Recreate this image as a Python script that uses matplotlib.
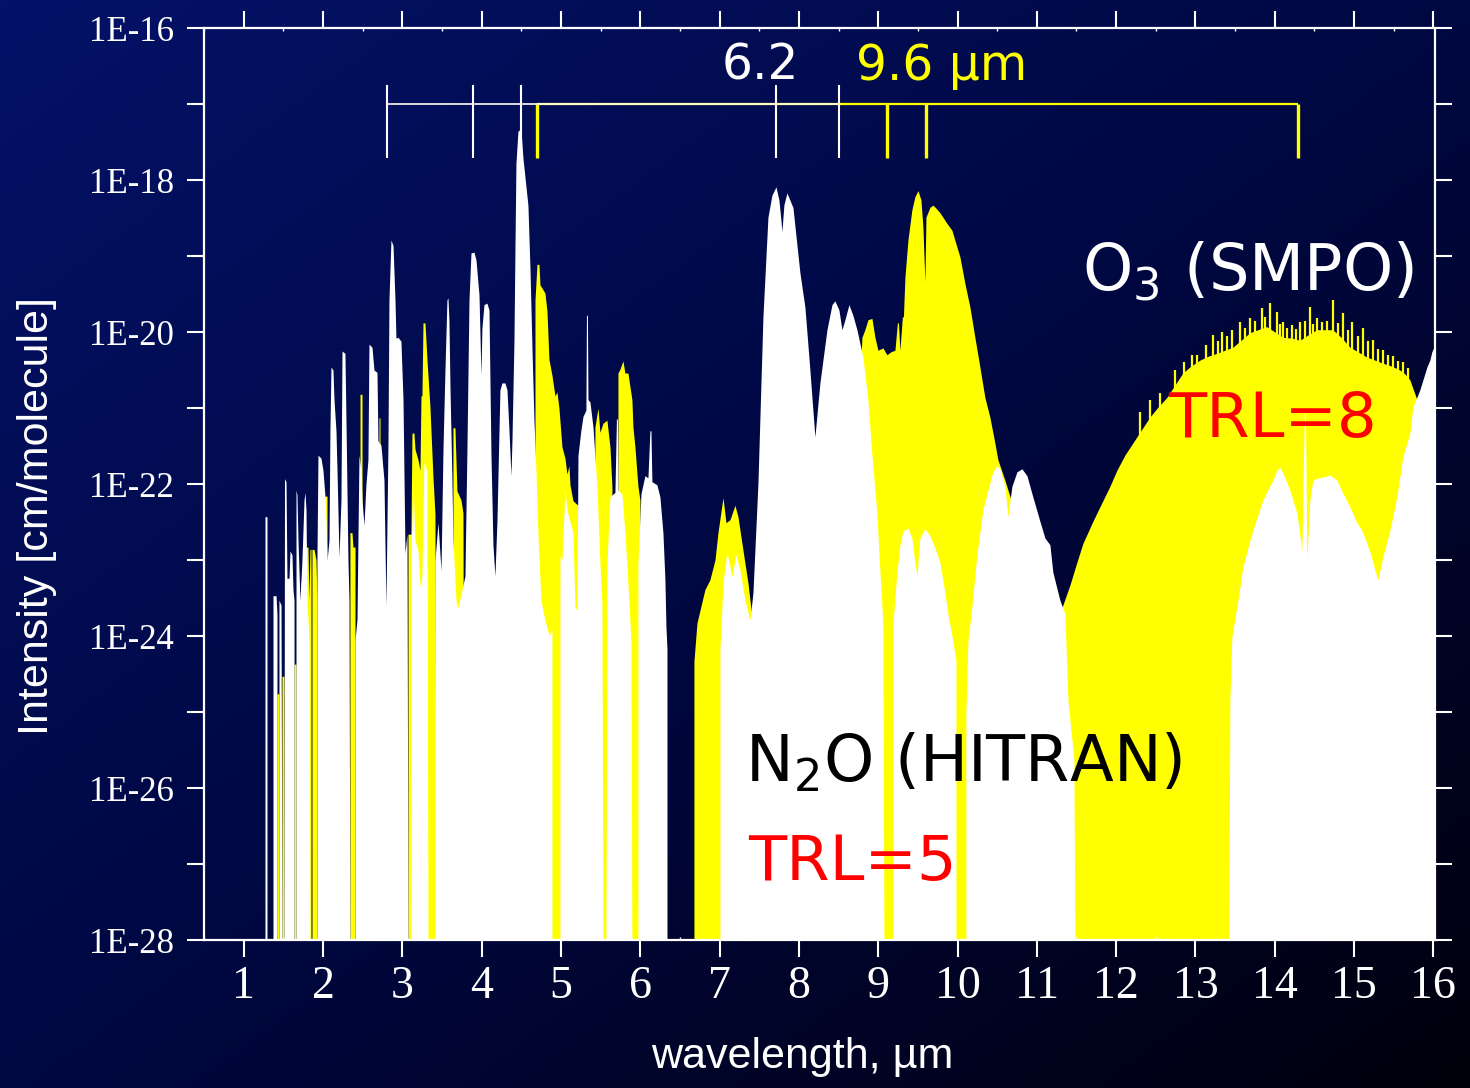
import numpy as np
import matplotlib
matplotlib.use("Agg")
import matplotlib.pyplot as plt
from matplotlib.ticker import FixedLocator, FixedFormatter, NullLocator

# ---------------- data (wavelength in um, log10 intensity in cm/molecule) ----------------
# N2O (HITRAN) upper envelope; -28 means no line coverage (axis floor)
n2o_env = [
    (1.269, -28), (1.269, -22.43), (1.294, -22.43), (1.294, -28),
    (1.370, -28), (1.370, -23.47), (1.408, -23.47), (1.420, -23.72), (1.420, -28),
    (1.445, -28), (1.445, -23.53), (1.471, -23.59), (1.483, -28),
    (1.508, -28), (1.515, -21.93), (1.534, -21.97), (1.546, -23.24), (1.572, -23.24), (1.584, -22.88),
    (1.609, -22.93), (1.622, -23.39), (1.635, -23.53), (1.635, -28), (1.660, -28), (1.660, -22.08),
    (1.672, -22.14), (1.685, -22.74), (1.710, -23.53), (1.735, -23.00), (1.761, -22.21), (1.773, -22.11),
    (1.786, -22.34), (1.798, -23.53), (1.824, -24.05), (1.836, -28),
    (1.924, -28), (1.924, -23.00), (1.937, -21.62), (1.975, -21.66), (2.000, -21.82), (2.025, -22.16),
    (2.038, -22.47), (2.051, -23.01), (2.076, -22.74), (2.088, -21.29), (2.101, -20.46), (2.126, -20.50),
    (2.139, -20.89), (2.164, -21.30), (2.177, -21.82), (2.202, -22.96), (2.227, -22.21), (2.240, -20.25),
    (2.277, -20.28), (2.290, -21.16), (2.315, -23.00), (2.328, -23.53), (2.340, -28),
    (2.404, -28), (2.404, -24.05), (2.429, -23.78), (2.454, -21.62), (2.479, -21.82), (2.492, -22.21),
    (2.517, -22.54), (2.542, -22.00), (2.567, -21.68), (2.580, -20.16), (2.618, -20.20), (2.643, -20.50),
    (2.681, -20.53), (2.693, -21.43), (2.731, -21.49), (2.769, -21.95), (2.794, -23.61), (2.820, -21.42),
    (2.832, -19.58), (2.857, -18.79), (2.883, -18.86), (2.908, -19.58), (2.920, -20.08), (2.946, -20.07),
    (2.983, -20.12), (3.009, -20.89), (3.034, -22.91), (3.059, -22.66), (3.072, -28),
    (3.109, -28), (3.109, -23.00), (3.135, -21.96), (3.160, -22.74), (3.198, -22.87), (3.223, -23.36),
    (3.248, -23.20), (3.273, -21.71), (3.311, -21.82), (3.324, -28),
    (3.412, -28), (3.412, -23.00), (3.450, -22.51), (3.488, -23.14), (3.513, -21.55), (3.538, -20.50),
    (3.563, -19.58), (3.576, -19.55), (3.588, -19.84), (3.601, -20.71), (3.626, -21.95), (3.639, -22.74),
    (3.677, -23.53), (3.702, -23.63), (3.752, -23.39), (3.790, -23.21), (3.815, -21.55), (3.841, -19.58),
    (3.866, -18.96), (3.904, -18.95), (3.929, -19.05), (3.967, -19.51), (3.992, -20.57), (4.004, -19.95),
    (4.030, -19.64), (4.067, -19.62), (4.093, -19.71), (4.118, -21.61), (4.143, -22.80), (4.168, -23.21),
    (4.194, -22.47), (4.231, -20.76), (4.257, -20.67), (4.294, -20.67), (4.320, -20.76), (4.345, -21.29),
    (4.370, -21.89), (4.383, -21.42), (4.408, -20.11), (4.420, -18.95), (4.433, -17.78), (4.458, -17.36),
    (4.496, -17.32), (4.521, -17.71), (4.584, -18.33), (4.610, -19.17), (4.635, -20.21), (4.660, -21.16),
    (4.685, -21.82), (4.710, -22.66), (4.748, -23.53), (4.799, -23.79), (4.849, -23.99), (4.887, -23.92),
    (4.887, -28),
    (4.988, -28), (4.988, -22.95), (5.013, -23.00), (5.051, -22.08), (5.076, -22.34), (5.152, -22.64),
    (5.177, -23.62), (5.202, -23.66), (5.215, -21.62), (5.252, -21.29), (5.278, -21.11), (5.315, -21.03),
    (5.322, -19.78), (5.334, -19.78), (5.341, -20.89), (5.366, -20.92), (5.404, -21.25), (5.454, -22.03),
    (5.492, -23.05), (5.517, -23.57), (5.530, -28),
    (5.568, -28), (5.580, -23.05), (5.618, -22.17), (5.681, -22.11), (5.700, -21.13), (5.713, -21.16),
    (5.719, -22.08), (5.769, -22.13), (5.807, -22.64), (5.845, -23.30), (5.883, -24.07), (5.895, -28),
    (5.971, -28), (5.971, -23.05), (6.009, -22.13), (6.059, -21.89), (6.097, -21.92), (6.122, -21.30),
    (6.135, -21.30), (6.147, -21.97), (6.210, -22.01), (6.248, -22.17), (6.286, -22.64), (6.311, -23.25),
    (6.324, -23.87), (6.337, -24.17), (6.337, -28),
    (7.005, -28), (7.005, -24.18), (7.043, -23.30), (7.093, -22.89), (7.156, -23.22), (7.206, -22.93),
    (7.257, -23.13), (7.320, -23.53), (7.383, -23.79), (7.421, -23.43), (7.484, -21.99), (7.547, -19.80),
    (7.610, -18.49), (7.660, -18.20), (7.711, -18.09), (7.748, -18.26), (7.774, -18.53), (7.786, -18.68),
    (7.811, -18.33), (7.849, -18.17), (7.925, -18.36), (8.013, -19.22), (8.076, -19.67), (8.139, -20.50),
    (8.202, -21.38), (8.265, -20.67), (8.354, -19.97), (8.417, -19.64), (8.454, -19.59), (8.505, -19.71),
    (8.543, -19.97), (8.580, -19.84), (8.631, -19.64), (8.681, -19.78), (8.732, -19.97), (8.807, -20.33),
    (8.870, -20.89), (8.921, -21.62), (8.984, -22.39), (9.022, -23.16), (9.060, -23.84), (9.072, -28),
    (9.186, -28), (9.186, -23.84), (9.236, -23.16), (9.274, -22.80), (9.312, -22.62), (9.375, -22.58),
    (9.425, -22.71), (9.463, -23.03), (9.488, -23.21), (9.526, -22.71), (9.589, -22.59), (9.652, -22.68),
    (9.715, -22.84), (9.778, -23.03), (9.841, -23.43), (9.879, -23.71), (9.942, -24.07), (9.980, -24.32),
    (9.980, -28),
    (10.106, -28), (10.106, -25.00), (10.131, -24.07), (10.181, -23.62), (10.244, -22.93), (10.320, -22.34),
    (10.383, -22.08), (10.446, -21.84), (10.497, -21.76), (10.534, -21.80), (10.597, -22.03), (10.635, -22.43),
    (10.686, -22.03), (10.749, -21.84), (10.812, -21.80), (10.875, -21.89), (10.950, -22.17), (11.039, -22.49),
    (11.102, -22.71), (11.165, -22.80), (11.202, -23.16), (11.291, -23.53), (11.354, -23.71), (11.392, -24.84),
    (11.467, -25.63), (11.480, -28),
    (13.421, -28), (13.434, -24.84), (13.459, -24.01), (13.535, -23.53), (13.598, -23.09), (13.661, -22.84),
    (13.724, -22.61), (13.787, -22.41), (13.850, -22.21), (13.913, -22.08), (13.976, -21.95), (14.026, -21.82),
    (14.064, -21.78), (14.114, -21.88), (14.190, -22.08), (14.278, -22.38), (14.342, -22.87), (14.373, -21.03),
    (14.386, -21.03), (14.404, -23.00), (14.442, -22.21), (14.480, -21.95), (14.543, -21.92), (14.606, -21.91),
    (14.694, -21.88), (14.783, -21.95), (14.858, -22.12), (14.947, -22.30), (15.035, -22.51), (15.098, -22.61),
    (15.161, -22.78), (15.211, -22.93), (15.262, -23.13), (15.300, -23.26), (15.363, -22.96), (15.451, -22.61),
    (15.539, -22.17), (15.615, -21.64), (15.703, -21.33), (15.741, -20.99), (15.829, -20.76), (15.918, -20.46),
    (15.955, -20.37), (15.980, -20.26), (16.02, -20.17),
]

# O3 (SMPO) upper envelope
o3_env = [
    (1.420, -28), (1.420, -24.76), (1.445, -24.76), (1.445, -28),
    (1.483, -28), (1.483, -24.53), (1.508, -24.53), (1.508, -28),
    (1.635, -28), (1.635, -24.37), (1.660, -24.37), (1.660, -28),
    (1.723, -28), (1.723, -23.29), (1.748, -23.29), (1.748, -28),
    (1.786, -28), (1.786, -22.83), (1.811, -22.83), (1.824, -23.53), (1.836, -22.86), (1.849, -22.86), (1.849, -28),
    (1.861, -28), (1.861, -22.86), (1.887, -22.86), (1.912, -23.00), (1.924, -23.53), (1.924, -28),
    (2.013, -28), (2.013, -22.16), (2.051, -22.16), (2.051, -28),
    (2.177, -28), (2.189, -22.96), (2.214, -22.96), (2.227, -28),
    (2.340, -28), (2.340, -22.64), (2.366, -22.64), (2.378, -22.83), (2.404, -22.83), (2.404, -28),
    (2.467, -28), (2.467, -20.82), (2.492, -20.82), (2.492, -28),
    (2.706, -28), (2.706, -21.13), (2.719, -21.13), (2.719, -28),
    (3.072, -28), (3.072, -22.66), (3.109, -22.66), (3.122, -21.33), (3.147, -21.33), (3.160, -21.54),
    (3.198, -21.68), (3.223, -21.82), (3.236, -20.84), (3.248, -20.84), (3.261, -19.88), (3.286, -19.88),
    (3.311, -20.36), (3.349, -20.99), (3.387, -21.91), (3.412, -22.40), (3.425, -28),
    (3.639, -28), (3.639, -21.26), (3.664, -21.26), (3.689, -22.09), (3.740, -22.21), (3.765, -22.38), (3.778, -28),
    (4.673, -28), (4.673, -19.58), (4.698, -19.11), (4.723, -19.11), (4.736, -19.38), (4.761, -19.42),
    (4.799, -19.49), (4.824, -19.72), (4.849, -20.36), (4.887, -20.57), (4.925, -20.84), (4.950, -20.79),
    (4.975, -21.00), (5.013, -21.51), (5.051, -21.66), (5.076, -21.87), (5.101, -21.76), (5.114, -22.01),
    (5.152, -22.22), (5.215, -22.28), (5.227, -28),
    (5.416, -28), (5.429, -21.25), (5.467, -21.00), (5.492, -21.32), (5.530, -21.20), (5.580, -21.16),
    (5.618, -21.51), (5.643, -22.03), (5.656, -28),
    (5.719, -28), (5.719, -20.54), (5.744, -20.49), (5.782, -20.38), (5.807, -20.54), (5.845, -20.54),
    (5.895, -20.89), (5.908, -21.25), (5.933, -21.51), (5.971, -22.03), (5.996, -22.21), (6.009, -28),
    (6.677, -28), (6.677, -24.33), (6.715, -23.83), (6.815, -23.39), (6.878, -23.26), (6.942, -23.00),
    (6.980, -22.64), (7.043, -22.18), (7.081, -22.51), (7.131, -22.47), (7.194, -22.28), (7.232, -22.43),
    (7.295, -22.87), (7.358, -23.30), (7.408, -23.75), (7.509, -24.05), (8.643, -24.05), (8.744, -21.16),
    (8.795, -20.07), (8.832, -19.97), (8.870, -19.84), (8.921, -19.82), (8.959, -20.07), (8.997, -20.24),
    (9.060, -20.21), (9.110, -20.30), (9.160, -20.26), (9.211, -20.24), (9.242, -19.88), (9.255, -19.88),
    (9.274, -20.24), (9.305, -19.80), (9.318, -19.80), (9.337, -19.28), (9.375, -18.79), (9.425, -18.39),
    (9.463, -18.22), (9.501, -18.14), (9.539, -18.26), (9.564, -18.62), (9.589, -19.34), (9.602, -18.49),
    (9.652, -18.36), (9.690, -18.33), (9.728, -18.37), (9.778, -18.43), (9.866, -18.57), (9.929, -18.66),
    (9.992, -18.88), (10.030, -19.01), (10.093, -19.36), (10.156, -19.67), (10.219, -20.07), (10.282, -20.46),
    (10.345, -20.86), (10.408, -21.12), (10.471, -21.46), (10.509, -21.68), (10.597, -21.95), (10.912, -23.00),
    (11.291, -23.68), (11.329, -23.59), (11.417, -23.33), (11.505, -23.03), (11.581, -22.78), (11.707, -22.49),
    (11.795, -22.30), (11.921, -22.03), (12.009, -21.82), (12.110, -21.62), (12.211, -21.46), (12.299, -21.32),
    (12.425, -21.12), (12.526, -20.99), (12.640, -20.86), (12.740, -20.70), (12.841, -20.54), (12.930, -20.46),
    (13.056, -20.37), (13.157, -20.32), (13.270, -20.28), (13.371, -20.24), (13.472, -20.20), (13.573, -20.11),
    (13.686, -20.01), (13.787, -19.97), (13.900, -19.93), (14.001, -20.00), (14.102, -20.07), (14.215, -20.08),
    (14.316, -20.11), (14.417, -20.04), (14.531, -19.97), (14.632, -19.97), (14.732, -19.97), (14.846, -20.08),
    (14.947, -20.20), (15.048, -20.26), (15.161, -20.33), (15.262, -20.37), (15.363, -20.41), (15.476, -20.45),
    (15.577, -20.50), (15.640, -20.55), (15.703, -20.63), (15.792, -20.89), (15.892, -21.16), (16.02, -21.42),
]

# individual O3 lines standing above the 14 um band
o3_lines_wl = [12.299, 12.425, 12.550, 12.740, 12.850, 12.955, 13.020, 13.131, 13.219, 13.280,
               13.333, 13.400, 13.459, 13.560, 13.620, 13.686, 13.750, 13.837, 13.880, 13.938,
               14.026, 14.060, 14.102, 14.160, 14.215, 14.270, 14.316, 14.380, 14.442, 14.480,
               14.531, 14.593, 14.660, 14.732, 14.800, 14.858, 14.920, 14.972, 15.050, 15.110,
               15.180, 15.236, 15.300, 15.363, 15.430, 15.489, 15.550, 15.615, 15.680]
o3_lines_logI = [-21.05, -20.90, -20.80, -20.50, -20.40, -20.30, -20.30, -20.17, -20.04, -20.12,
                 -20.00, -20.05, -19.97, -19.87, -19.95, -19.82, -19.85, -19.68, -19.80, -19.62,
                 -19.74, -19.90, -19.87, -19.95, -19.91, -19.96, -19.87, -19.85, -19.67, -19.90,
                 -19.82, -19.87, -19.85, -19.58, -19.88, -19.75, -19.98, -19.87, -20.05, -19.95,
                 -20.12, -20.11, -20.22, -20.24, -20.30, -20.32, -20.38, -20.39, -20.48]

# band-centre markers (um)
n2o_bands = [2.81, 3.89, 4.50, 7.71, 8.505]
o3_bands = [4.704, 9.110, 9.602, 14.297]

x_ticks = list(range(1, 17))
x_ticklabels = [str(v) for v in x_ticks]
y_decades = list(range(-28, -15))
y_ticklabels = ["1E%d" % d if d % 2 == 0 else "" for d in y_decades]

# ---------------- figure ----------------
plt.rcParams["mathtext.fontset"] = "dejavusans"
plt.rcParams["mathtext.default"] = "regular"

fig = plt.figure(figsize=(14.7, 10.88), dpi=100)

# background gradient (navy top-left to black bottom-right)
bg = fig.add_axes([0, 0, 1, 1], zorder=-10)
gy, gx = np.mgrid[0:1:300j, 0:1:400j]
t = 0.5 * (gx + gy)
c0 = np.array([4, 18, 104]) / 255.0
c1 = np.array([0, 8, 66]) / 255.0
c2 = np.array([0, 0, 12]) / 255.0
tt = t[..., None]
img = np.where(tt < 0.5, c0 + (c1 - c0) * (tt / 0.5), c1 + (c2 - c1) * ((tt - 0.5) / 0.5))
bg.imshow(img, aspect="auto", extent=[0, 1, 0, 1], origin="upper")
bg.set_axis_off()

ax = fig.add_axes([204 / 1470, 148 / 1088, 1231 / 1470, 912 / 1088])
ax.patch.set_alpha(0)
ax.set_yscale("log")
ax.set_xlim(0.5, 16.02)
ax.set_ylim(1e-28, 1e-16)

o3_wl, o3_lg = zip(*o3_env)
n2_wl, n2_lg = zip(*n2o_env)
ax.fill_between(o3_wl, 1e-28, 10.0 ** np.array(o3_lg), color="#ffff00", lw=0, zorder=1)
ax.vlines(o3_lines_wl, 1e-28, 10.0 ** np.array(o3_lines_logI), color="#ffff00", lw=1.6, zorder=1.2)
ax.fill_between(n2_wl, 1e-28, 10.0 ** np.array(n2_lg), color="white", lw=0, zorder=2)

# band brackets
ax.hlines(1e-17, o3_bands[0], o3_bands[-1], color="#ffff00", lw=1.6, zorder=3)
ax.vlines(o3_bands, 1e-17, 10 ** -17.71, color="#ffff00", lw=2.4, zorder=3)
ax.hlines(1e-17, n2o_bands[0], n2o_bands[-1], color="#fffff0", lw=1.2, zorder=3.1)
ax.vlines(n2o_bands, 10 ** -16.75, 10 ** -17.71, color="white", lw=1.5, zorder=3.1)

# annotations
ax.text(7.51, 10 ** -16.68, "6.2", color="white", fontsize=35, ha="center", va="baseline",
        family="DejaVu Sans", zorder=5)
ax.text(8.72, 10 ** -16.68, "9.6 \u00b5m", color="#ffff00", fontsize=35, ha="left", va="baseline",
        family="DejaVu Sans", zorder=5)
ax.text(11.57, 10 ** -19.45, "O$_3$ (SMPO)", color="white", fontsize=46, ha="left", va="baseline",
        family="DejaVu Sans", zorder=5)
ax.text(12.65, 10 ** -21.38, "TRL=8", color="#ff0000", fontsize=45, ha="left", va="baseline",
        family="DejaVu Sans", zorder=5)
ax.text(7.32, 10 ** -25.92, "N$_2$O (HITRAN)", color="black", fontsize=46, ha="left", va="baseline",
        family="DejaVu Sans", zorder=5)
ax.text(7.36, 10 ** -27.21, "TRL=5", color="#ff0000", fontsize=45, ha="left", va="baseline",
        family="DejaVu Sans", zorder=5)

# axes styling
for s in ax.spines.values():
    s.set_color("white")
    s.set_linewidth(1.6)
    s.set_zorder(6)

ax.set_xticks(x_ticks)
ax.set_xticklabels(x_ticklabels)
ax.set_xticks(np.arange(0.5, 16.01, 1.0), minor=True)
ax.yaxis.set_major_locator(FixedLocator([10.0 ** d for d in y_decades]))
ax.yaxis.set_major_formatter(FixedFormatter(y_ticklabels))
ax.yaxis.set_minor_locator(NullLocator())

ax.tick_params(axis="x", which="major", direction="out", length=12.5, width=1.5, color="white",
               top=True, bottom=True, labelsize=33, labelcolor="white", pad=6)
ax.tick_params(axis="x", which="minor", direction="in", length=2.5, width=1.0, color="white",
               top=True, bottom=True)
ax.tick_params(axis="y", which="major", direction="out", length=12.5, width=1.5, color="white",
               left=True, right=True, labelsize=25, labelcolor="white", pad=9)
for lbl in ax.get_xticklabels() + ax.get_yticklabels():
    lbl.set_family("Liberation Serif")

fig.text(802 / 1470, 1 - 1057 / 1088, "wavelength, \u00b5m", color="white", fontsize=31,
         family="Liberation Sans", ha="center", va="center")
fig.text(37 / 1470, 1 - 516 / 1088, "Intensity [cm/molecule]", color="white", fontsize=31,
         family="Liberation Sans", ha="center", va="center", rotation=90)

fig.savefig("out.png", dpi=100)
